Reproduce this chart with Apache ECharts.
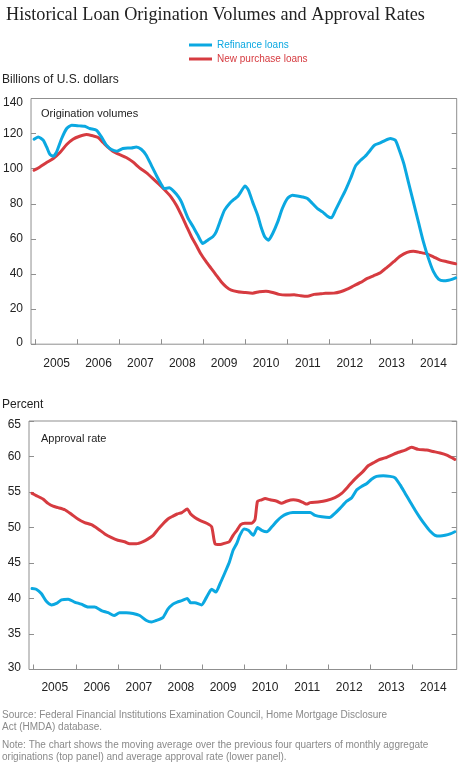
<!DOCTYPE html>
<html>
<head>
<meta charset="utf-8">
<script src="https://cdn.jsdelivr.net/npm/echarts@6/dist/echarts.min.js"></script>
<style>
html,body{margin:0;padding:0;background:#fff;}
#c{width:460px;height:763px;}
</style>
</head>
<body>
<div id="c"></div>
<script>
// ---- Data (decimal years) ----
const refiVolYears = [2004.96,2005.06,2005.18,2005.26,2005.34,2005.42,2005.50,2005.62,2005.74,2005.86,2006.05,2006.17,2006.29,2006.45,2006.57,2006.69,2006.81,2006.94,2007.08,2007.20,2007.28,2007.40,2007.52,2007.64,2007.76,2007.88,2008.00,2008.07,2008.19,2008.31,2008.41,2008.48,2008.64,2008.76,2008.87,2008.99,2009.11,2009.23,2009.31,2009.43,2009.51,2009.63,2009.74,2009.83,2009.90,2010.00,2010.08,2010.18,2010.30,2010.38,2010.47,2010.56,2010.66,2010.78,2010.89,2011.01,2011.13,2011.25,2011.37,2011.49,2011.61,2011.73,2011.85,2011.96,2012.06,2012.16,2012.28,2012.40,2012.52,2012.64,2012.76,2012.87,2012.99,2013.09,2013.23,2013.35,2013.47,2013.59,2013.67,2013.79,2013.90,2014.02,2014.14,2014.26,2014.38,2014.50,2014.62,2014.74,2014.86,2014.94,2015.03];
const refiVol = [116.8,118.1,116.2,112.4,108.1,107.1,109.6,117.2,122.9,124.8,124.4,124.2,122.9,121.9,118.1,113.4,110.9,110.0,111.5,111.8,111.8,112.4,111.1,107.7,102.0,96.3,91.0,88.7,89.1,86.8,84.0,81.1,71.7,66.9,62.2,57.4,59.3,61.2,64.0,71.7,76.4,80.2,82.6,84.3,86.8,90.2,87.8,81.1,73.5,66.9,61.2,59.3,63.1,69.7,77.3,83.0,84.9,84.5,83.9,83.0,80.2,77.3,75.4,73.1,72.0,76.4,82.1,87.8,94.4,101.6,104.8,107.1,110.5,113.4,114.7,116.2,117.2,116.2,111.5,103.0,92.5,81.1,69.7,58.3,48.9,41.3,37.1,36.1,36.4,36.9,37.8];

const purchVolYears = [2004.96,2005.10,2005.26,2005.42,2005.58,2005.74,2005.89,2006.05,2006.21,2006.37,2006.49,2006.61,2006.73,2006.84,2007.00,2007.16,2007.32,2007.48,2007.64,2007.80,2007.95,2008.11,2008.23,2008.36,2008.48,2008.60,2008.72,2008.83,2008.95,2009.07,2009.19,2009.31,2009.43,2009.55,2009.67,2009.83,2009.98,2010.18,2010.34,2010.50,2010.66,2010.81,2010.97,2011.17,2011.33,2011.49,2011.65,2011.81,2011.92,2012.12,2012.28,2012.44,2012.60,2012.76,2012.92,2013.07,2013.23,2013.39,2013.55,2013.71,2013.87,2014.02,2014.18,2014.34,2014.50,2014.66,2014.82,2015.03];
const purchVol = [99.1,101.0,103.5,105.8,109.2,113.8,116.8,118.5,119.5,118.7,117.8,114.9,112.1,110.0,108.1,106.4,103.9,100.5,97.8,94.4,91.0,87.2,84.0,79.2,73.5,67.3,61.2,56.5,51.2,47.0,43.2,39.4,35.6,32.7,30.8,29.9,29.5,29.1,29.9,30.2,29.5,28.4,28.0,28.2,27.6,27.3,28.4,28.7,29.0,29.1,29.9,31.4,33.3,35.2,37.5,39.0,40.7,43.8,47.0,50.2,52.3,53.0,52.3,51.5,49.8,47.9,47.0,45.8];

const refiRateYears = [2004.96,2005.06,2005.18,2005.30,2005.42,2005.54,2005.66,2005.82,2005.97,2006.13,2006.29,2006.45,2006.61,2006.77,2006.91,2007.04,2007.20,2007.36,2007.52,2007.68,2007.80,2007.91,2008.07,2008.19,2008.31,2008.41,2008.52,2008.65,2008.73,2008.83,2008.99,2009.11,2009.23,2009.33,2009.43,2009.55,2009.65,2009.74,2009.83,2009.90,2010.00,2010.10,2010.22,2010.32,2010.42,2010.54,2010.66,2010.78,2010.89,2011.01,2011.16,2011.29,2011.41,2011.57,2011.69,2011.85,2012.03,2012.16,2012.28,2012.44,2012.56,2012.68,2012.80,2012.92,2013.03,2013.15,2013.31,2013.47,2013.59,2013.71,2013.83,2013.94,2014.06,2014.18,2014.30,2014.42,2014.54,2014.66,2014.78,2014.90,2015.01];
const refiRate = [41.4,41.3,40.7,39.6,39.1,39.3,39.8,39.9,39.5,39.2,38.8,38.8,38.3,38.0,37.6,38.0,38.0,37.9,37.6,36.9,36.7,36.9,37.3,38.5,39.2,39.5,39.7,40.0,39.4,39.4,39.1,40.2,41.3,40.9,42.1,43.7,45.1,46.8,47.8,48.9,49.8,49.6,48.9,50.0,49.6,49.4,50.1,50.9,51.5,51.9,52.1,52.1,52.1,52.1,51.7,51.5,51.4,52.0,52.7,53.7,54.2,55.3,55.8,56.2,56.8,57.2,57.3,57.2,57.0,56.0,54.8,53.7,52.5,51.4,50.4,49.5,48.9,48.8,48.9,49.1,49.4];

const purchRateYears = [2004.96,2005.06,2005.22,2005.34,2005.46,2005.58,2005.74,2005.89,2006.05,2006.21,2006.37,2006.53,2006.69,2006.84,2007.00,2007.16,2007.28,2007.44,2007.60,2007.72,2007.84,2007.95,2008.07,2008.19,2008.31,2008.41,2008.52,2008.65,2008.73,2008.83,2008.95,2009.11,2009.23,2009.31,2009.43,2009.55,2009.65,2009.74,2009.83,2009.92,2010.02,2010.18,2010.26,2010.32,2010.42,2010.50,2010.62,2010.78,2010.89,2011.01,2011.17,2011.29,2011.41,2011.49,2011.57,2011.76,2011.96,2012.16,2012.32,2012.48,2012.60,2012.72,2012.83,2012.95,2013.07,2013.19,2013.35,2013.51,2013.67,2013.83,2013.98,2014.14,2014.34,2014.50,2014.66,2014.82,2015.01];
const purchRate = [54.8,54.5,54.0,53.4,53.0,52.8,52.5,51.9,51.2,50.7,50.4,49.8,49.1,48.6,48.2,48.0,47.7,47.7,48.0,48.4,48.9,49.7,50.5,51.2,51.6,51.9,52.1,52.6,51.9,51.4,51.0,50.6,50.1,47.7,47.6,47.8,48.0,48.9,49.6,50.4,50.6,50.6,51.1,53.7,53.9,54.1,53.9,53.7,53.4,53.7,53.9,53.8,53.5,53.3,53.5,53.6,53.8,54.2,54.8,55.8,56.6,57.3,57.9,58.7,59.1,59.5,59.8,60.2,60.6,60.9,61.3,61.0,60.9,60.7,60.5,60.2,59.6];

const yearTicks = [2005,2006,2007,2008,2009,2010,2011,2012,2013,2014];
const yearLabels = ['2005','2006','2007','2008','2009','2010','2011','2012','2013','2014'];

const seriesNames = ['Refinance loans','New purchase loans'];
const titleText = 'Historical Loan Origination Volumes and Approval Rates';
const sourceText = 'Source: Federal Financial Institutions Examination Council, Home Mortgage Disclosure\nAct (HMDA) database.';
const noteText = 'Note: The chart shows the moving average over the previous four quarters of monthly aggregate\noriginations (top panel) and average approval rate (lower panel).';

// ---- Styling ----
const BLUE = '#0ba8e1';
const RED = '#d63b40';
const FONT = "'Liberation Sans', Arial, sans-serif";
const FRAME = '#8f8f8f';
const X_MIN = 2004.888, X_MAX = 2015.055;

function pairs(xs, ys){ return xs.map((x,i)=>[x, ys[i]]); }

const chart = echarts.init(document.getElementById('c'), null, {renderer:'canvas'});

function xAxisFor(gi, margin){
  return {
    type:'value', gridIndex:gi, min:X_MIN, max:X_MAX,
    axisLine:{show:false},
    splitLine:{show:false},
    axisTick:{show:true, inside:true, length:5, customValues:yearTicks, lineStyle:{color:FRAME}},
    axisLabel:{customValues:yearTicks.map(y=>y+0.5),
      formatter:(v)=>yearLabels[yearTicks.indexOf(Math.floor(v))],
      margin:margin, fontSize:12, color:'#222', fontFamily:FONT}
  };
}
const lblStyle = {fontSize:12, color:'#222', fontFamily:FONT};
function yAxisFor(gi, min, max, interval, right){
  return {
    type:'value', gridIndex:gi, min:min, max:max, interval:interval,
    position: right ? 'right' : 'left',
    axisLine:{show:false},
    splitLine:{show:false},
    axisTick:{show:true, inside:true, length:5, lineStyle:{color:FRAME}},
    axisLabel:{show:!right, margin:8, fontSize:12, color:'#222', fontFamily:FONT,
      formatter:(v)=> v===max ? '{t|'+v+'}' : (v===min ? '{b|'+v+'}' : String(v)),
      rich:{t:Object.assign({padding:[8,0,0,0]}, lblStyle), b:Object.assign({padding:[0,0,4,0]}, lblStyle)}}
  };
}

const lineStyle = (c)=>({width:3, color:c, cap:'round', join:'round'});

chart.setOption({
  animation:false,
  backgroundColor:'#fff',
  title:{text:titleText, left:1, top:1,
    textStyle:{fontFamily:"'Liberation Serif', Georgia, serif", fontSize:18.2, fontWeight:'normal', color:'#222'}},
  legend:{orient:'vertical', left:184, top:34, itemWidth:23, itemHeight:3, itemGap:2, icon:'rect',
    textStyle:{fontSize:10, fontFamily:FONT, lineHeight:12},
    data:[{name:seriesNames[0], textStyle:{color:BLUE}}, {name:seriesNames[1], textStyle:{color:RED}}]},
  grid:[
    {left:29, top:98.5, width:427.7, height:245.7, show:true, borderColor:FRAME, borderWidth:1, containLabel:false},
    {left:29, top:421, width:427.7, height:248.5, show:true, borderColor:FRAME, borderWidth:1, containLabel:false}
  ],
  xAxis:[xAxisFor(0, 13), xAxisFor(1, 12.5)],
  yAxis:[
    yAxisFor(0,0,140,20,false), yAxisFor(0,0,140,20,true),
    yAxisFor(1,30,65,5,false), yAxisFor(1,30,65,5,true)
  ],
  graphic:[
    {type:'text', left:2, top:74, style:{text:'Billions of U.S. dollars', font:"12px 'Liberation Sans', Arial", fill:'#222'}},
    {type:'text', left:41, top:108, style:{text:'Origination volumes', font:"11px 'Liberation Sans', Arial", fill:'#222'}},
    {type:'text', left:2, top:399, style:{text:'Percent', font:"12px 'Liberation Sans', Arial", fill:'#222'}},
    {type:'text', left:41, top:433, style:{text:'Approval rate', font:"11px 'Liberation Sans', Arial", fill:'#222'}},
    {type:'text', left:2, top:709, style:{text:sourceText, font:"10px 'Liberation Sans', Arial", fill:'#8a8a8a', lineHeight:12}},
    {type:'text', left:2, top:739, style:{text:noteText, font:"10px 'Liberation Sans', Arial", fill:'#8a8a8a', lineHeight:12}}
  ],
  series:[
    {name:seriesNames[1], type:'line', xAxisIndex:0, yAxisIndex:0, data:pairs(purchVolYears, purchVol), showSymbol:false, lineStyle:lineStyle(RED), itemStyle:{color:RED}, smooth:0.2},
    {name:seriesNames[1], type:'line', xAxisIndex:1, yAxisIndex:2, data:pairs(purchRateYears, purchRate), showSymbol:false, lineStyle:lineStyle(RED), itemStyle:{color:RED}, smooth:0.2},
    {name:seriesNames[0], type:'line', xAxisIndex:0, yAxisIndex:0, data:pairs(refiVolYears, refiVol), showSymbol:false, lineStyle:lineStyle(BLUE), itemStyle:{color:BLUE}, smooth:0.2},
    {name:seriesNames[0], type:'line', xAxisIndex:1, yAxisIndex:2, data:pairs(refiRateYears, refiRate), showSymbol:false, lineStyle:lineStyle(BLUE), itemStyle:{color:BLUE}, smooth:0.2}
  ]
});
</script>
</body>
</html>
